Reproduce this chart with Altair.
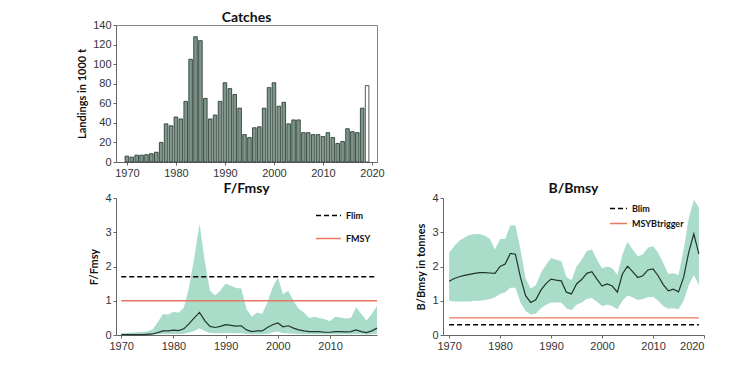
import altair as alt
import pandas as pd

years = list(range(1970, 2020))

catches = [6, 5, 7, 7, 7.5, 8.5, 10, 20, 39, 37,
           46, 44, 62, 105, 128, 124, 65, 44, 48, 62,
           81, 75, 69, 55, 28, 25, 35, 36, 55, 76,
           81, 57, 61, 39, 43, 43, 30, 30, 28, 28,
           26, 30, 25, 19, 21, 34, 31, 30, 55, 78]

f_median = [0.01, 0.01, 0.01, 0.01, 0.01, 0.02, 0.03, 0.07, 0.12, 0.12,
            0.14, 0.13, 0.18, 0.33, 0.50, 0.66, 0.42, 0.25, 0.22, 0.25,
            0.30, 0.28, 0.26, 0.27, 0.15, 0.10, 0.12, 0.12, 0.22, 0.30,
            0.35, 0.24, 0.27, 0.20, 0.15, 0.12, 0.10, 0.10, 0.10, 0.08,
            0.08, 0.10, 0.10, 0.09, 0.10, 0.15, 0.10, 0.07, 0.12, 0.20]
f_low = [0.0, 0.0, 0.0, 0.0, 0.0, 0.0, 0.01, 0.02, 0.03, 0.03,
         0.03, 0.03, 0.04, 0.07, 0.12, 0.20, 0.12, 0.06, 0.05, 0.05,
         0.06, 0.05, 0.05, 0.05, 0.03, 0.02, 0.02, 0.02, 0.04, 0.07,
         0.10, 0.05, 0.05, 0.04, 0.03, 0.02, 0.02, 0.02, 0.02, 0.02,
         0.02, 0.02, 0.02, 0.02, 0.02, 0.03, 0.02, 0.01, 0.02, 0.03]
f_high = [0.05, 0.06, 0.07, 0.08, 0.09, 0.10, 0.16, 0.37, 0.61, 0.60,
          0.68, 0.65, 0.80, 1.40, 2.26, 3.25, 2.16, 1.29, 1.15, 1.30,
          1.50, 1.44, 1.37, 1.36, 0.76, 0.53, 0.66, 0.61, 0.95, 1.39,
          1.68, 1.19, 1.29, 1.00, 0.76, 0.66, 0.50, 0.53, 0.50, 0.46,
          0.40, 0.53, 0.51, 0.48, 0.50, 0.81, 0.61, 0.42, 0.61, 0.85]

b_median = [1.57, 1.65, 1.70, 1.74, 1.77, 1.80, 1.82, 1.82, 1.81, 1.80,
            2.00, 2.07, 2.38, 2.36, 1.68, 1.15, 0.95, 1.03, 1.31, 1.50,
            1.63, 1.60, 1.58, 1.25, 1.20, 1.49, 1.62, 1.80, 1.85, 1.63,
            1.43, 1.49, 1.43, 1.25, 1.78, 2.01, 1.85, 1.68, 1.73, 1.90,
            1.93, 1.73, 1.47, 1.29, 1.34, 1.26, 1.68, 2.41, 2.95, 2.36]
b_low = [1.00, 0.98, 0.98, 0.98, 0.98, 1.00, 1.00, 1.02, 1.05, 1.10,
         1.20, 1.25, 1.38, 1.38, 0.95, 0.70, 0.60, 0.62, 0.78, 0.88,
         0.95, 0.95, 0.95, 0.78, 0.72, 0.88, 0.95, 1.05, 1.08, 0.97,
         0.85, 0.88, 0.85, 0.75, 1.00, 1.15, 1.10, 1.02, 1.05, 1.10,
         1.12, 1.00, 0.85, 0.77, 0.78, 0.75, 1.00, 1.45, 1.75, 1.45]
b_high = [2.40, 2.60, 2.75, 2.85, 2.92, 2.95, 2.95, 2.90, 2.80, 2.50,
          2.80, 2.80, 3.20, 3.20, 2.50, 1.65, 1.35, 1.45, 1.80, 2.05,
          2.25, 2.20, 2.15, 1.70, 1.60, 2.00, 2.20, 2.45, 2.50, 2.20,
          1.95, 2.00, 1.95, 1.75, 2.35, 2.72, 2.50, 2.30, 2.35, 2.55,
          2.60, 2.40, 2.10, 1.78, 1.80, 1.75, 2.50, 3.40, 3.95, 3.72]

f_ref_names = ["Flim", "FMSY"]
f_ref_values = [1.7, 1.0]
b_ref_names = ["Blim", "MSYBtrigger"]
b_ref_values = [0.3, 0.5]
ref_years = [1970, 2019]

year_ticks = [1970, 1980, 1990, 2000, 2010, 2020]

BAND = "#a9dcc9"
LINE = "#22352c"
ORANGE = "#e8785e"
PW, PH = 261, 137

df_c = pd.DataFrame({"year": years, "catch": catches})
df_f = pd.DataFrame({"year": years, "median": f_median, "low": f_low, "high": f_high})
df_b = pd.DataFrame({"year": years, "median": b_median, "low": b_low, "high": b_high})


def ref_df(names, values):
    rows = []
    for n, v in zip(names, values):
        for y in ref_years:
            rows.append({"year": y, "value": v, "ref": n})
    return pd.DataFrame(rows)


df_fref = ref_df(f_ref_names, f_ref_values)
df_bref = ref_df(b_ref_names, b_ref_values)

yvals4 = [0, 1, 2, 3, 4]

catch_chart = alt.Chart(df_c).mark_bar(size=3.6, stroke="#22302a", strokeWidth=0.8).encode(
    x=alt.X("year:Q", scale=alt.Scale(domain=[1968.8, 2020], nice=False, zero=False),
            axis=alt.Axis(values=year_ticks, format="d", title=None)),
    y=alt.Y("catch:Q", scale=alt.Scale(domain=[0, 140], nice=False),
            axis=alt.Axis(values=list(range(0, 141, 20)), title="Landings in 1000 t",
                          labelOverlap=False)),
    fill=alt.condition("datum.year == 2019", alt.value("white"), alt.value("#7d968a")),
).properties(width=PW, height=PH, title=alt.TitleParams("Catches", offset=-6),
             view=alt.ViewBackground(stroke="#888", strokeWidth=1))

blank = alt.Chart(pd.DataFrame({"v": [0]})).mark_point(opacity=0).encode(
    x=alt.X("v:Q", axis=None), y=alt.Y("v:Q", axis=None)
).properties(width=PW, height=PH)


def stock_panel(df, dfref, names, title, ytitle, xdomain, xticks, legend_x, legend_y, row_pad, sym):
    xenc = alt.X("year:Q", scale=alt.Scale(domain=xdomain, nice=False, zero=False),
                 axis=alt.Axis(values=xticks, format="d", title=None))
    yscale = alt.Scale(domain=[0, 4], nice=False)
    yaxis = alt.Axis(values=yvals4, title=ytitle, labelOverlap=False)
    leg = alt.Legend(title=None, orient="none", legendX=legend_x,
                     legendY=legend_y, symbolType="stroke",
                     symbolSize=sym, rowPadding=row_pad, padding=0,
                     labelFontSize=9, labelFontWeight="bold", labelOffset=4,
                     labelFont="Lato", labelColor="#111", symbolStrokeWidth=1.6)
    band = alt.Chart(df).mark_area(color=BAND, opacity=1).encode(
        x=xenc,
        y=alt.Y("low:Q", scale=yscale, axis=yaxis),
        y2="high:Q",
    )
    med = alt.Chart(df).mark_line(color=LINE, strokeWidth=1.2).encode(
        x=xenc, y=alt.Y("median:Q", scale=yscale, axis=yaxis)
    )
    refs = alt.Chart(dfref).mark_line(strokeWidth=1.4).encode(
        x=xenc,
        y=alt.Y("value:Q", scale=yscale, axis=yaxis),
        color=alt.Color("ref:N", scale=alt.Scale(domain=names, range=["black", ORANGE]),
                        legend=leg),
        strokeDash=alt.StrokeDash("ref:N", scale=alt.Scale(domain=names, range=[[5, 3], [1, 0]]),
                                  legend=leg),
    )
    return alt.layer(band, med, refs).properties(width=PW, height=PH, title=title)


f_chart = stock_panel(df_f, df_fref, f_ref_names, "F/Fmsy", "F/Fmsy", [1969, 2019],
                      year_ticks[:-1], 199, 4, 4, 625)
b_chart = stock_panel(df_b, df_bref, b_ref_names, "B/Bmsy", "B/Bmsy in tonnes", [1968.8, 2020],
                      year_ticks, 166, 1, -2, 289)

chart = alt.concat(catch_chart, blank, f_chart, b_chart, columns=2,
                   spacing={"row": 3, "column": 30}).resolve_scale(
    color="independent", strokeDash="independent"
).resolve_legend(
    color="independent", strokeDash="independent"
).properties(
    padding={"left": 68, "top": 2, "right": 5, "bottom": 5}
).configure_view(stroke=None).configure_axis(
    grid=False, domainColor="#666", tickColor="#666", tickSize=3, labelPadding=2,
    labelColor="#333", labelFont="Liberation Sans", labelFontSize=11,
    titleFont="Lato", titleFontSize=11, titleFontWeight="bold", titleColor="#111",
    titlePadding=5,
).configure_title(
    font="Lato", fontSize=14, fontWeight="bold", color="#111", offset=-4, anchor="middle"
)

chart.save("out.html", embed_options={"renderer": "svg", "actions": False})
